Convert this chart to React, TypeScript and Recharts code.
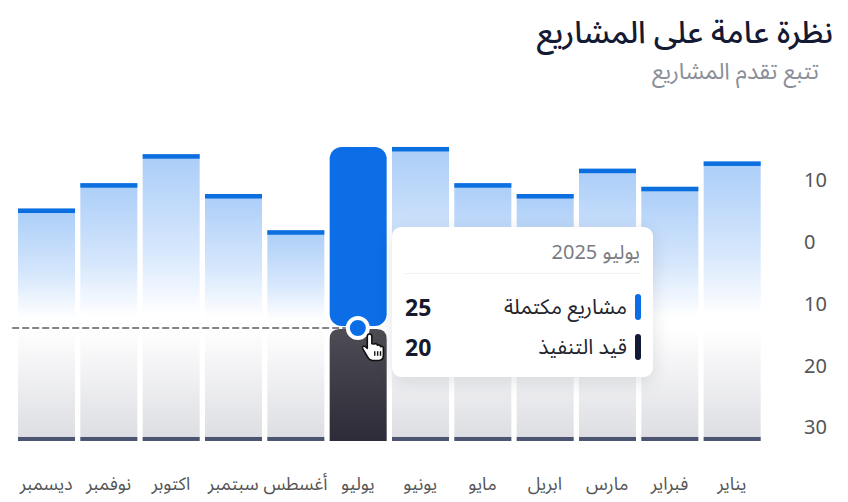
import {
  BarChart,
  Bar,
  XAxis,
  YAxis,
  Tooltip,
  ReferenceLine,
  ReferenceDot,
} from 'recharts'

const months = ['يناير', 'فبراير', 'مارس', 'ابريل', 'مايو', 'يونيو', 'يوليو', 'أغسطس', 'سبتمبر', 'اكتوبر', 'نوفمبر', 'ديسمبر']
const completed = [23, 19.5, 22, 18.5, 20, 25, 25, 13.5, 18.5, 24, 20, 16.5]
const inProgress = [20, 20, 20, 20, 20, 20, 20, 20, 20, 20, 20, 20]
const yTicks = [-10, 0, 10, 20, 30]
const activeMonth = 'يوليو'
const activeYear = 2025
const seriesNames = { completed: 'مشاريع مكتملة', inProgress: 'قيد التنفيذ' }

const data = months.map((month, i) => ({ month, completed: completed[i], inProgress: inProgress[i] }))

const FONT = "'Noto Sans Arabic', 'Noto Sans', 'DejaVu Sans', sans-serif"
const NUM_FONT = "'Noto Sans', sans-serif"
const BLUE = '#0b6ee6'

const DoneShape = (props: any) => {
  const { x, y, width, height, payload } = props
  const top = Math.min(y, y + height)
  const h = Math.abs(height)
  if (payload.month === activeMonth) {
    return <rect x={x} y={top} width={width} height={h - 2} rx={12} ry={12} fill={BLUE} />
  }
  return (
    <g>
      <rect x={x} y={top} width={width} height={h} fill="url(#doneGrad)" />
      <rect x={x} y={top} width={width} height={4.5} fill="#0b6fe0" />
    </g>
  )
}

const ProgShape = (props: any) => {
  const { x, y, width, height, payload } = props
  const top = Math.min(y, y + height)
  const h = Math.abs(height)
  const bottom = top + h
  if (payload.month === activeMonth) {
    const r = 10
    const t = top + 1
    const d = `M${x},${bottom} L${x},${t + r} Q${x},${t} ${x + r},${t} L${x + width - r},${t} Q${x + width},${t} ${x + width},${t + r} L${x + width},${bottom} Z`
    return <path d={d} fill="url(#progDark)" />
  }
  return (
    <g>
      <rect x={x} y={top} width={width} height={h} fill="url(#progGrad)" />
      <rect x={x} y={bottom - 4} width={width} height={4} fill="#4b5470" />
    </g>
  )
}

const NoShape = () => null

const XTick = (props: any) => {
  const { x, payload } = props
  return (
    <text x={x} y={484} textAnchor="middle" dominantBaseline="central" fontSize={18} fill="#555" fontFamily={FONT}>
      {payload.value}
    </text>
  )
}

const YTick = (props: any) => {
  const { y, payload } = props
  return (
    <text x={804} y={y} textAnchor="start" dominantBaseline="central" fontSize={20} fill="#555" fontFamily={NUM_FONT}>
      {Math.abs(payload.value)}
    </text>
  )
}

const DashShape = (props: any) => {
  const { x1, y1, x2 } = props
  return (
    <line
      x1={Math.min(x1, x2) - 34}
      y1={y1}
      x2={Math.max(x1, x2)}
      y2={y1}
      stroke="#84858d"
      strokeWidth={2}
      strokeDasharray="7 3"
    />
  )
}

const DotShape = (props: any) => {
  const { cx, cy } = props
  return (
    <g>
      <circle cx={cx} cy={cy} r={10} fill={BLUE} stroke="#fff" strokeWidth={4} />
      <g transform={`translate(${cx + 6},${cy + 6}) scale(1.15)`}>
        <path
          d="M5 0 C3.6 0 3 1 3 2.2 L3 12.5 L1.4 11 C0.2 10 -1.8 10.8 -1 12.8 L3 19.5 C4 21.5 5.2 23 7.5 23 L13 23 C15.5 23 17 21.2 17 18.5 L17 12.3 C17 11 15.6 10.4 14.5 11 C14.4 9.6 12.9 9.1 11.8 9.8 C11.6 8.4 10.1 8 9 8.7 L7 8.5 L7 2.2 C7 1 6.4 0 5 0 Z"
          fill="#fff"
          stroke="#111"
          strokeWidth={1.4}
          strokeLinejoin="round"
        />
        <line x1={9.5} y1={15} x2={9.5} y2={19} stroke="#111" strokeWidth={1.2} />
        <line x1={12} y1={15} x2={12} y2={19} stroke="#111" strokeWidth={1.2} />
        <line x1={14.5} y1={15} x2={14.5} y2={19} stroke="#111" strokeWidth={1.2} />
      </g>
    </g>
  )
}

const TipContent = (props: any) => {
  const row = props.payload?.[0]?.payload ?? data.find((d) => d.month === activeMonth)
  if (!row) return null
  const rows = [
    { name: seriesNames.completed, value: row.completed, color: BLUE, top: 67 },
    { name: seriesNames.inProgress, value: row.inProgress, color: '#131a36', top: 107 },
  ]
  return (
    <div
      style={{
        position: 'relative',
        width: 261,
        height: 150,
        background: '#fff',
        borderRadius: 9,
        boxShadow: '0 4px 18px rgba(20,30,60,0.12)',
        fontFamily: FONT,
        direction: 'rtl',
      }}
    >
      <div style={{ position: 'absolute', right: 13, top: 13, fontSize: 20, lineHeight: '26px', color: '#7b7c82', whiteSpace: 'nowrap' }}>
        {row.month} {activeYear}
      </div>
      <div style={{ position: 'absolute', left: 12, right: 12, top: 46, height: 1, background: '#f0f1f4' }} />
      {rows.map((r) => (
        <div key={r.name}>
          <div style={{ position: 'absolute', right: 12, top: r.top, width: 6, height: 26, borderRadius: 3, background: r.color }} />
          <div
            style={{
              position: 'absolute',
              right: 26,
              top: r.top,
              fontSize: 21,
              lineHeight: '26px',
              color: '#23242b',
              whiteSpace: 'nowrap',
            }}
          >
            {r.name}
          </div>
          <div
            style={{
              position: 'absolute',
              left: 13,
              top: r.top,
              fontSize: 23,
              lineHeight: '26px',
              fontWeight: 700,
              color: '#161a2e',
              direction: 'ltr',
              fontFamily: NUM_FONT,
            }}
          >
            {r.value}
          </div>
        </div>
      ))}
    </div>
  )
}

export default function App() {
  return (
    <div style={{ position: 'absolute', left: 0, top: 0, width: 848, height: 502, background: '#fff', overflow: 'hidden' }}>
      <div
        style={{
          position: 'absolute',
          right: 15,
          top: 15,
          fontSize: 31,
          lineHeight: '36px',
          color: '#141a33',
          fontFamily: FONT,
          direction: 'rtl',
          fontWeight: 500,
          whiteSpace: 'nowrap',
        }}
      >
        نظرة عامة على المشاريع
      </div>
      <div
        style={{
          position: 'absolute',
          right: 29,
          top: 58,
          fontSize: 23,
          lineHeight: '28px',
          color: '#8a8e98',
          fontFamily: FONT,
          direction: 'rtl',
          whiteSpace: 'nowrap',
        }}
      >
        تتبع تقدم المشاريع
      </div>
      <BarChart
        width={848}
        height={502}
        data={data}
        margin={{ top: 118, right: 15, bottom: 16.5, left: 15 }}
        barSize={57}
        style={{ position: 'absolute', left: 0, top: 0 }}
      >
        <defs>
          <linearGradient id="doneGrad" x1="0" y1="0" x2="0" y2="1">
            <stop offset="0%" stopColor="#aacdf8" />
            <stop offset="55%" stopColor="#d6e7fc" />
            <stop offset="92%" stopColor="#ffffff" />
            <stop offset="100%" stopColor="#ffffff" />
          </linearGradient>
          <linearGradient id="progGrad" x1="0" y1="0" x2="0" y2="1">
            <stop offset="0%" stopColor="#ffffff" />
            <stop offset="100%" stopColor="#dcdde2" />
          </linearGradient>
          <linearGradient id="progDark" x1="0" y1="0" x2="0" y2="1">
            <stop offset="0%" stopColor="#4e4d56" />
            <stop offset="100%" stopColor="#2c2b37" />
          </linearGradient>
        </defs>
        <XAxis dataKey="month" reversed axisLine={false} tickLine={false} height={40} tick={<XTick />} interval={0} />
        <XAxis xAxisId="b" dataKey="month" reversed hide />
        <XAxis xAxisId="c" dataKey="month" reversed hide />
        <YAxis
          yAxisId="vis"
          orientation="right"
          reversed
          domain={[-20, 33]}
          ticks={yTicks}
          width={70}
          axisLine={false}
          tickLine={false}
          tick={<YTick />}
          allowDataOverflow
        />
        <YAxis yAxisId="done" domain={[-16.23, 29]} hide allowDataOverflow />
        <YAxis yAxisId="prog" domain={[-37.17, 20.8]} reversed hide allowDataOverflow />
        <Bar dataKey="completed" yAxisId="vis" xAxisId="c" shape={<NoShape />} isAnimationActive={false} />
        <Bar dataKey="inProgress" yAxisId="prog" xAxisId="b" shape={<ProgShape />} isAnimationActive={false} />
        <Bar dataKey="completed" yAxisId="done" shape={<DoneShape />} isAnimationActive={false} />
        <ReferenceLine
          yAxisId="done"
          segment={[
            { x: months[months.length - 1], y: 0 },
            { x: activeMonth, y: 0 },
          ]}
          shape={<DashShape />}
        />
        <ReferenceDot yAxisId="done" x={activeMonth} y={0} r={10} shape={<DotShape />} />
        <Tooltip
          defaultIndex={months.indexOf(activeMonth)}
          active
          cursor={false}
          position={{ x: 392, y: 227 }}
          allowEscapeViewBox={{ x: true, y: true }}
          content={<TipContent />}
          isAnimationActive={false}
          wrapperStyle={{ outline: 'none' }}
        />
      </BarChart>
    </div>
  )
}
